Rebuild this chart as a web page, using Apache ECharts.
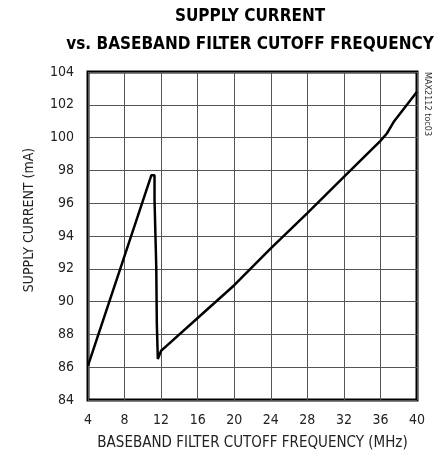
<!DOCTYPE html>
<html>
<head>
<meta charset="utf-8">
<script src="https://cdn.jsdelivr.net/npm/echarts@6/dist/echarts.min.js"></script>
<style>
  html, body { margin: 0; padding: 0; background: #fff; }
  #chart { width: 445px; height: 457px; }
</style>
</head>
<body>
<div id="chart"></div>
<script>
// MHz vs mA
var freqMHz = [4, 7.8, 10.93, 11.28, 11.28, 11.47, 11.53, 11.64, 12.0, 12.6, 16, 20, 24, 28, 32, 36, 36.7, 37.5, 40];
var currentMA = [86.1, 92.45, 97.7, 97.7, 96.2, 92.1, 88.7, 86.5, 87.0, 87.3, 89.0, 91.0, 93.25, 95.4, 97.6, 99.8, 100.25, 101.0, 102.8];

var xTicks = [4, 8, 12, 16, 20, 24, 28, 32, 36, 40];
var yTicks = [84, 86, 88, 90, 92, 94, 96, 98, 100, 102, 104];

var font = '"DejaVu Sans Condensed", "Liberation Sans Narrow", "Liberation Sans", sans-serif';

var points = [];
for (var i = 0; i < freqMHz.length; i++) {
  points.push([freqMHz[i], currentMA[i]]);
}

var chart = echarts.init(document.getElementById('chart'));
var option = {
  animation: false,
  backgroundColor: '#fff',
  title: {
    text: 'SUPPLY CURRENT\nvs. BASEBAND FILTER CUTOFF FREQUENCY',
    left: 245,
    top: -2,
    textAlign: 'center',
    textStyle: {
      fontFamily: font,
      fontWeight: 'bold',
      fontSize: 17,
      lineHeight: 28,
      color: '#000'
    }
  },
  grid: {
    left: 88,
    right: 28,
    top: 72,
    bottom: 57,
    show: true,
    borderColor: '#000',
    borderWidth: 3,
    backgroundColor: 'transparent'
  },
  xAxis: {
    type: 'value',
    min: xTicks[0],
    max: xTicks[xTicks.length - 1],
    interval: 4,
    name: 'BASEBAND FILTER CUTOFF FREQUENCY (MHz)',
    nameLocation: 'middle',
    nameGap: 36,
    nameTextStyle: { fontFamily: font, fontSize: 15, color: '#222' },
    axisLine: { show: false },
    axisTick: { show: false },
    axisLabel: { fontFamily: font, fontSize: 14, color: '#222', margin: 13 },
    splitLine: { show: true, lineStyle: { color: '#555', width: 1 } }
  },
  yAxis: {
    type: 'value',
    min: yTicks[0],
    max: yTicks[yTicks.length - 1],
    interval: 2,
    name: 'SUPPLY CURRENT (mA)',
    nameLocation: 'middle',
    nameGap: 52,
    nameTextStyle: { fontFamily: font, fontSize: 14, color: '#222', padding: [0, 0, 0, 32] },
    axisLine: { show: false },
    axisTick: { show: false },
    axisLabel: { fontFamily: font, fontSize: 14, color: '#222', margin: 14 },
    splitLine: { show: true, lineStyle: { color: '#555', width: 1 } }
  },
  graphic: [{
    type: 'text',
    left: 423,
    top: 72,
    rotation: -Math.PI / 2,
    style: {
      text: 'MAX2112 toc03',
      fontFamily: font,
      fontSize: 9,
      fill: '#333'
    }
  }],
  series: [{
    type: 'line',
    data: points,
    showSymbol: false,
    symbol: 'none',
    lineStyle: { color: '#000', width: 2.5 },
    z: 5
  }]
};
chart.setOption(option);
</script>
</body>
</html>
